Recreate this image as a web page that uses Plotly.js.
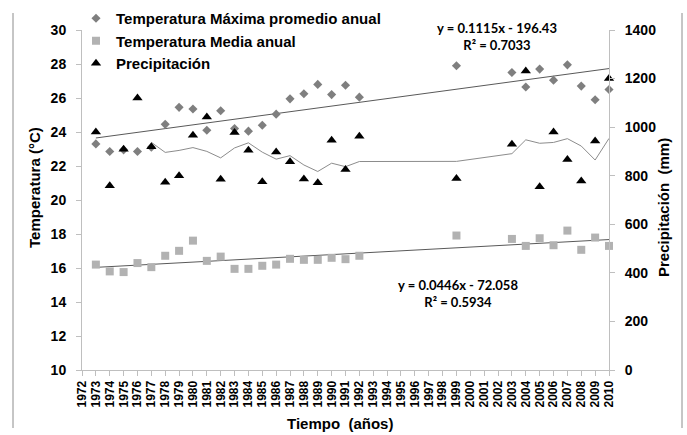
<!DOCTYPE html>
<html>
<head>
<meta charset="utf-8">
<script src="https://cdn.plot.ly/plotly-3.0.1.min.js"></script>
<style>html,body{margin:0;padding:0;background:#fff;}#chart{width:687px;height:435px;}</style>
</head>
<body>
<div id="chart"></div>
<script>
// ---- data ----
const years = [1973,1974,1975,1976,1977,1978,1979,1980,1981,1982,1983,1984,1985,1986,1987,1988,1989,1990,1991,1992,1999,2003,2004,2005,2006,2007,2008,2009,2010];
const tempMax = [23.3,22.85,22.95,22.85,23.1,24.45,25.45,25.35,24.1,25.25,24.2,24.05,24.4,25.05,25.95,26.25,26.8,26.2,26.75,26.05,27.9,27.5,26.65,27.7,27.05,27.95,26.7,25.9,26.5];
const tempMed = [16.2,15.8,15.76,16.29,16.05,16.72,17.01,17.61,16.42,16.67,15.95,15.95,16.13,16.2,16.54,16.48,16.48,16.6,16.52,16.72,17.91,17.71,17.3,17.75,17.34,18.2,17.07,17.79,17.3];
const precip = [980,759,909,1120,919,773,800,967,1042,785,978,905,775,898,857,786,771,946,826,963,789,930,1231,755,980,867,778,943,1200];
const seriesNames = ['Temperatura Máxima promedio anual','Temperatura Media anual','Precipitación'];
const eqMax = 'y = 0.1115x - 196.43<br>R² = 0.7033';
const eqMed = 'y = 0.0446x - 72.058<br>R² = 0.5934';
const maPeriod = 5;

// ---- trendlines (as the original chart's trendlines) ----
function linFit(xs, ys){
  const n = xs.length; let sx=0, sy=0, sxx=0, sxy=0;
  for(let i=0;i<n;i++){sx+=xs[i];sy+=ys[i];sxx+=xs[i]*xs[i];sxy+=xs[i]*ys[i];}
  const b=(n*sxy-sx*sy)/(n*sxx-sx*sx); const a=(sy-b*sx)/n;
  const x0=xs[0], x1=xs[n-1];
  return {x:[x0,x1], y:[a+b*x0, a+b*x1]};
}
function movAvg(xs, ys, p){
  const ox=[], oy=[];
  for(let i=p-1;i<ys.length;i++){let s=0;for(let k=i-p+1;k<=i;k++)s+=ys[k];ox.push(xs[i]);oy.push(s/p);}
  return {x:ox,y:oy};
}
const fMax = linFit(years, tempMax);
const fMed = linFit(years, tempMed);
const ma = movAvg(years, precip, maPeriod);

const FAM = 'Liberation Sans, Arial, sans-serif';
const bold = {family:FAM, size:14, color:'#000', weight:'bold'};
const titleFont = {family:FAM, size:15, color:'#000', weight:'bold'};
const eqFont = {family:'Lato, sans-serif', size:13, color:'#000', weight:'bold'};

const traces = [
  {x:fMax.x, y:fMax.y, mode:'lines', line:{color:'#595959', width:1}, showlegend:false, hoverinfo:'skip'},
  {x:fMed.x, y:fMed.y, mode:'lines', line:{color:'#595959', width:1}, showlegend:false, hoverinfo:'skip'},
  {x:years, y:tempMax, name:seriesNames[0], mode:'markers', cliponaxis:false,
   marker:{symbol:'diamond', size:7, color:'#7f7f7f'}},
  {x:years, y:tempMed, name:seriesNames[1], mode:'markers', cliponaxis:false,
   marker:{symbol:'square', size:8, color:'#b2b2b2'}},
  {x:ma.x, y:ma.y, yaxis:'y2', mode:'lines', line:{color:'#8c8c8c', width:1}, showlegend:false, hoverinfo:'skip'},
  {x:years, y:precip, name:seriesNames[2], yaxis:'y2', mode:'markers', cliponaxis:false,
   marker:{symbol:'triangle-up', size:9, color:'#000'}}
];

const L=82, R=78, T=30, B=65, W=687, H=435;
const pw=W-L-R, ph=H-T-B;
const px = v => (v-L)/pw;
const py = v => (H-B-v)/ph;

const axisCommon = {showgrid:false, zeroline:false, showline:true, linecolor:'#bfbfbf', linewidth:1,
  ticks:'outside', ticklen:5, tickcolor:'#bfbfbf', tickwidth:1};

function ann(x, y, text, font, angle){
  return {xref:'paper', yref:'paper', x:px(x), y:py(y), xanchor:'center', yanchor:'middle',
    text:text, showarrow:false, align:'center', font:font, textangle:angle||0};
}

const layout = {
  width:W, height:H, margin:{l:L, r:R, t:T, b:B, pad:0, autoexpand:false},
  paper_bgcolor:'#fff', plot_bgcolor:'#fff',
  font:{family:FAM, color:'#000'},
  showlegend:true,
  legend:{x:px(76), y:py(2), xanchor:'left', yanchor:'top', bgcolor:'rgba(0,0,0,0)', font:titleFont},
  xaxis:Object.assign({}, axisCommon, {range:[1972,2010], tick0:1972, dtick:1, tickangle:-90, automargin:false,
    tickfont:{family:FAM, size:12, color:'#000', weight:'bold'}}),
  yaxis:Object.assign({}, axisCommon, {range:[10,30], dtick:2, tickfont:bold, ticklabelstandoff:7, automargin:false}),
  yaxis2:Object.assign({}, axisCommon, {range:[0,1400], dtick:200, overlaying:'y', side:'right', automargin:false,
    tickfont:bold, ticklabelstandoff:7}),
  annotations:[
    ann(497, 36.5, eqMax, eqFont),
    ann(458, 293, eqMed, eqFont),
    ann(340, 424, 'Tiempo\u00a0 (años)', titleFont),
    ann(34, 188, 'Temperatura (°C)', titleFont, -90),
    ann(663, 208, 'Precipitación\u00a0 (mm)', titleFont, -90)
  ],
  shapes:[
    {type:'line', xref:'paper', yref:'paper', x0:px(13), x1:px(13), y0:py(13), y1:py(428), line:{color:'#8c8c8c', width:1}},
    {type:'line', xref:'paper', yref:'paper', x0:px(682), x1:px(682), y0:py(13), y1:py(428), line:{color:'#8c8c8c', width:1}}
  ]
};

Plotly.newPlot('chart', traces, layout, {displayModeBar:false, staticPlot:true});
</script>
</body>
</html>
